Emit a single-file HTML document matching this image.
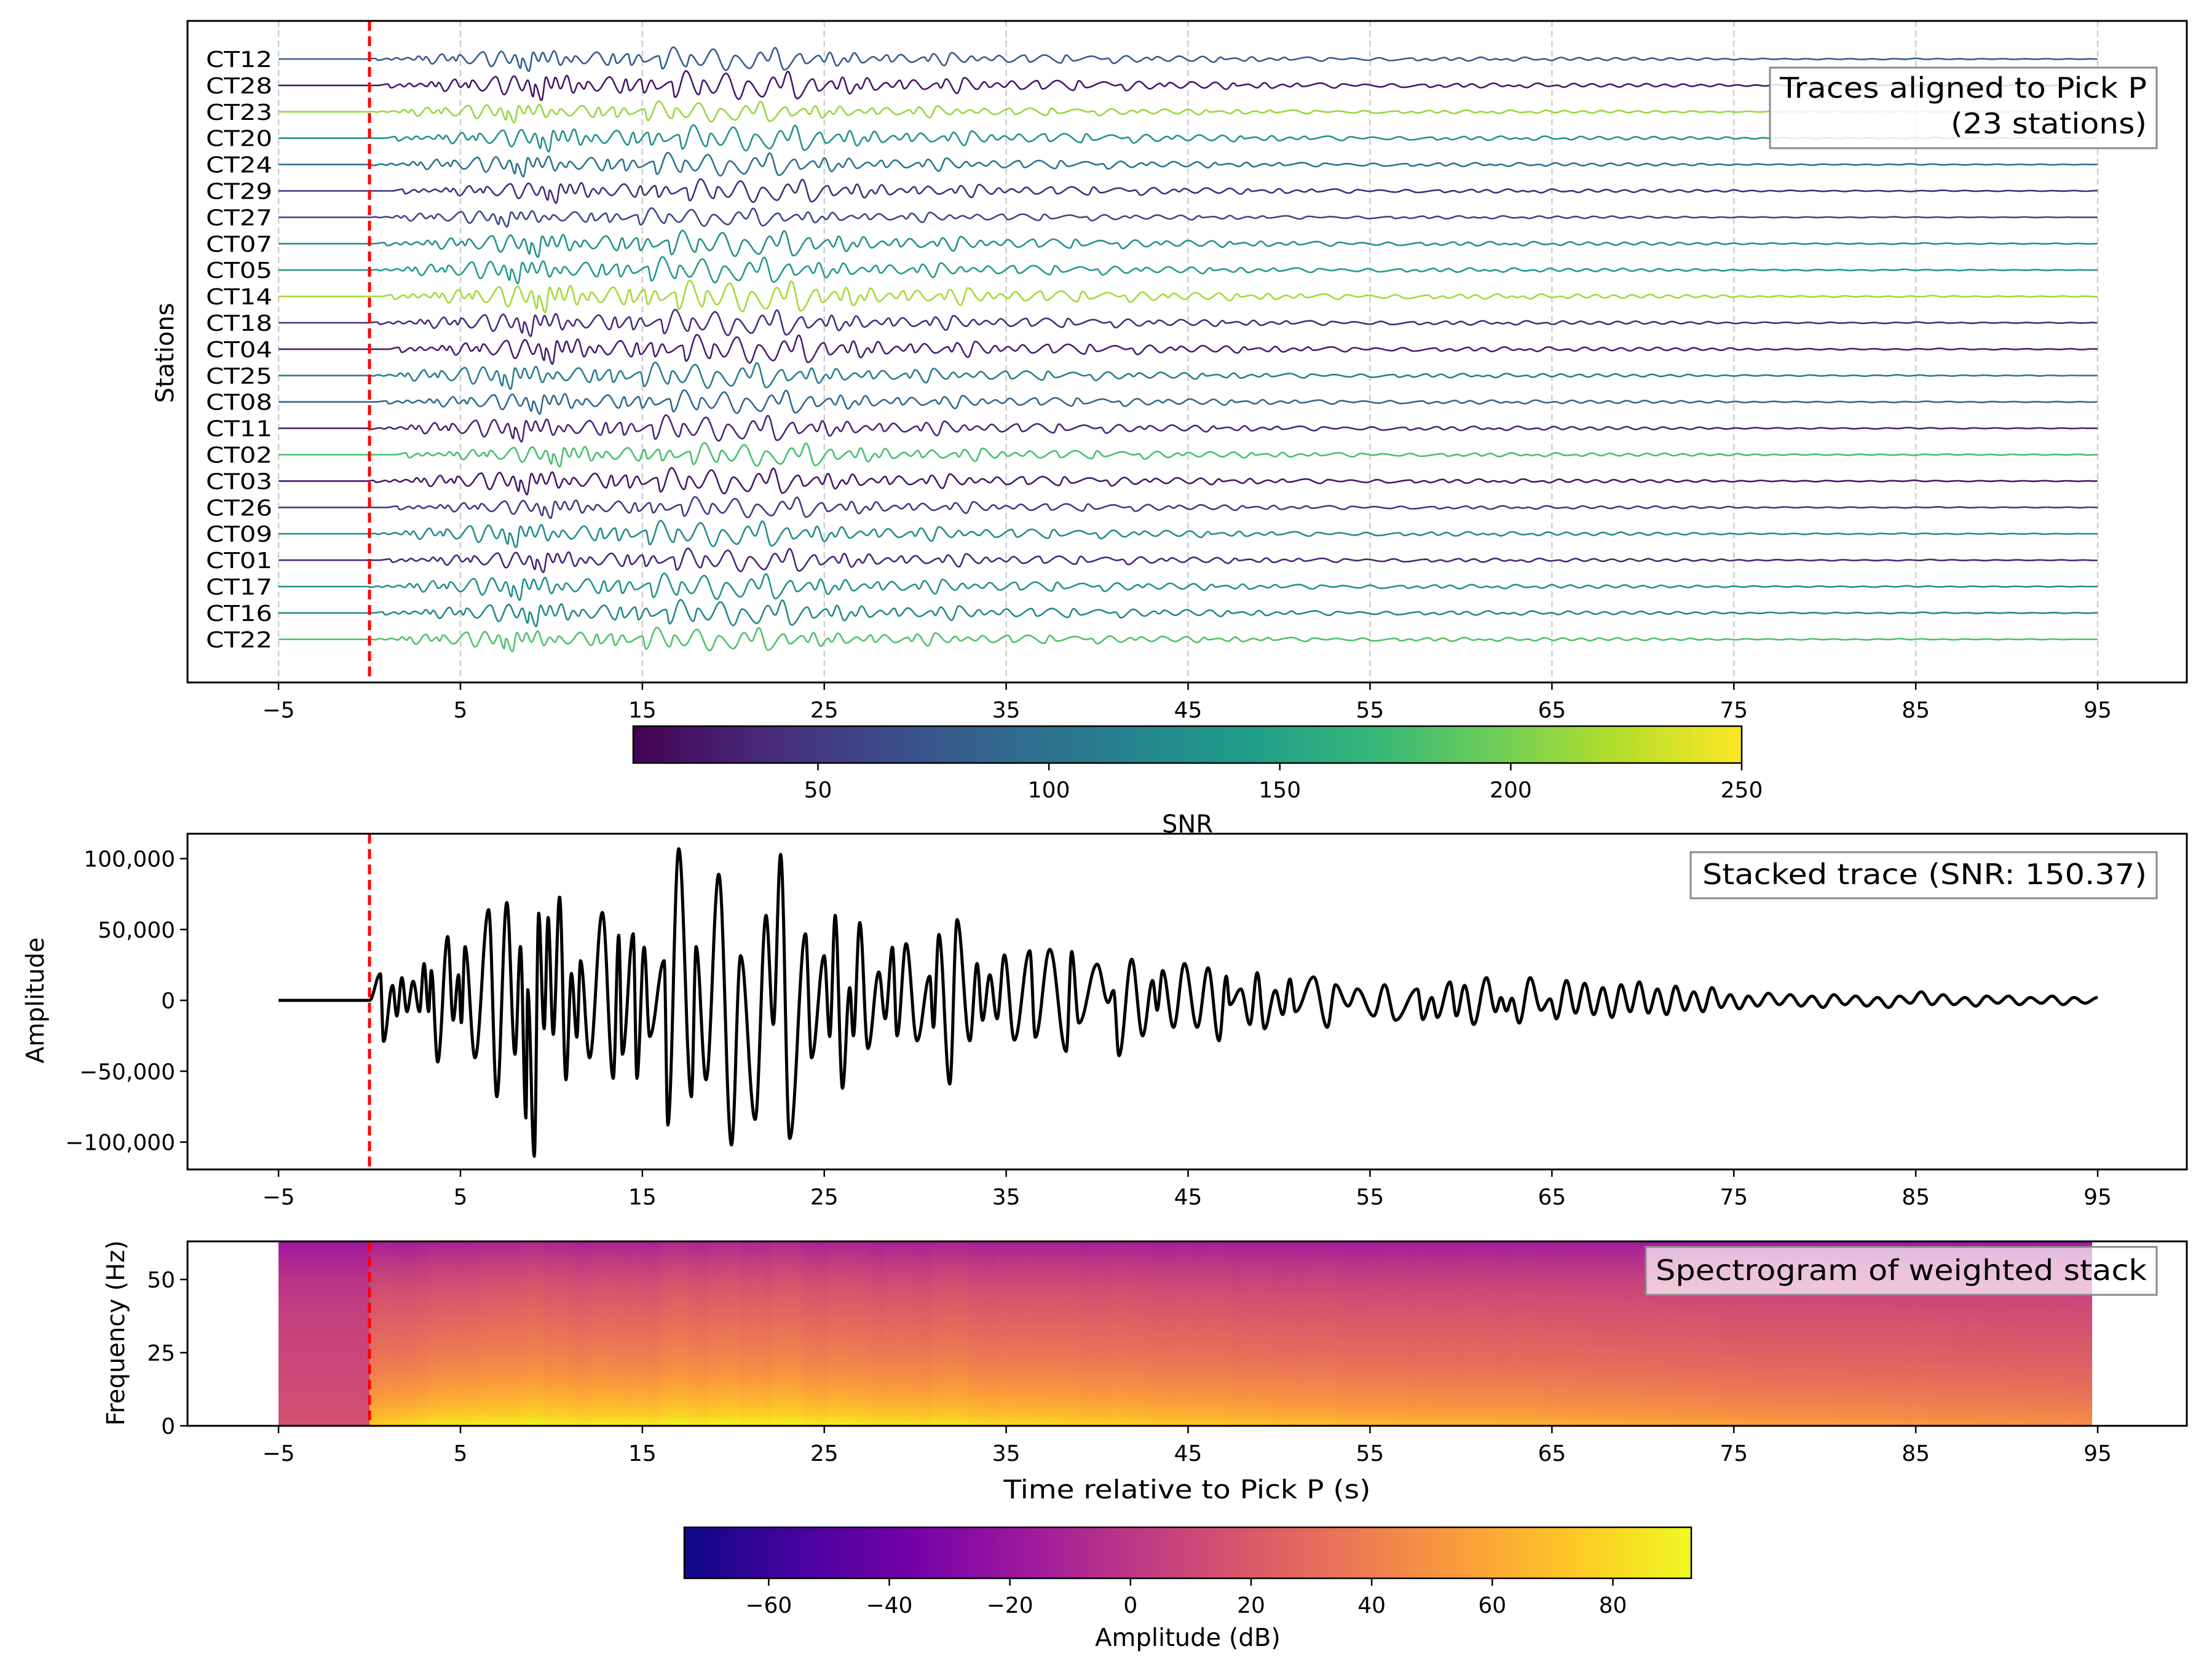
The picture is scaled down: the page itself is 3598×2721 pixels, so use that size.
<!DOCTYPE html>
<html><head><meta charset="utf-8"><style>
html,body{margin:0;padding:0;background:#fff;}
#wrap{position:relative;width:3598px;height:2721px;overflow:hidden;}
svg{position:absolute;left:0;top:0;}
text{font-family:"DejaVu Sans","Liberation Sans",sans-serif;fill:#000;}
</style></head><body>
<div id="wrap">
<svg id="fig" width="3598" height="2721" viewBox="0 0 3598 2721" xmlns="http://www.w3.org/2000/svg"></svg>
</div>
<script>
// ---------------- DATA ----------------
const stations = ["CT12","CT28","CT23","CT20","CT24","CT29","CT27","CT07","CT05","CT14","CT18","CT04","CT25","CT08","CT11","CT02","CT03","CT26","CT09","CT01","CT17","CT16","CT22"];
const stationSNR = [80,25,212,132,100,40,60,130,140,216,40,30,110,90,35,178,25,50,125,35,130,120,182];
const stationShift = [0.3,-0.4,1.1,-0.8,0.6,-1.2,1.5,-0.2,0.9,-0.6,0.2,-1.0,1.3,-0.3,0.7,-1.4,0.4,-0.9,1.0,-0.5,0.8,-0.1,1.2];
const stationGain = [0.9,1.1,0.8,1.0,0.9,0.9,0.7,1.0,1.0,1.2,1.0,1.1,1.0,0.9,1.0,0.9,1.0,0.8,1.0,0.9,1.0,1.0,0.9];
const xTicks = [-5,5,15,25,35,45,55,65,75,85,95];
const ampTicks = [100000,50000,0,-50000,-100000];
const ampTickLabels = ["100,000","50,000","0","\u221250,000","\u2212100,000"];
const freqTicks = [0,25,50];
const snrTicks = [50,100,150,200,250];
const dbTicks = [-60,-40,-20,0,20,40,60,80];
const stackTimes = [-5,0,0.6,0.77,1.27,1.5,1.78,2.06,2.4,2.75,3.0,3.25,3.4,3.75,4.3,4.6,4.9,5.05,5.25,5.8,
6.55,7.0,7.55,8.0,8.3,8.6,8.7,9.06,9.3,9.6,9.82,10.1,10.45,10.8,11.1,11.4,11.6,12.1,12.8,13.4,
13.7,13.9,14.5,14.7,15.1,15.4,16.2,16.4,17.0,17.7,17.95,18.5,19.2,19.9,20.4,21.2,21.8,22.2,22.6,23.1,
23.97,24.3,25.0,25.3,25.6,26.0,26.4,26.6,26.95,27.4,28.0,28.35,28.75,29.0,29.5,30.1,30.8,31.0,31.3,31.9,
32.3,33.0,33.4,33.7,34.1,34.5,34.9,35.45,36.3,36.6,37.4,38.3,38.6,39.0,40.0,40.6,40.9,41.2,41.9,42.5,
43.05,43.3,43.6,44.2,44.8,45.5,46.1,46.7,47.1,47.3,47.9,48.4,48.8,49.2,49.8,50.2,50.6,50.9,51.9,52.65,
53.1,53.8,54.3,55.2,55.8,56.4,57.6,57.9,58.4,58.7,59.4,59.75,60.2,60.7,61.4,61.9,62.2,62.5,62.8,63.2,
63.8,64.4,64.9,65.25,65.8,66.3,66.8,67.3,67.8,68.3,68.8,69.3,69.8,70.3,70.8,71.3,71.8,72.3,72.8,73.3,
73.8,74.3,74.8,75.3,75.8,76.3,76.9,77.5,78.1,78.7,79.3,79.9,80.5,81.1,81.7,82.3,82.9,83.5,84.1,84.7,
85.3,85.9,86.5,87.1,87.7,88.3,88.9,89.5,90.1,90.7,91.3,91.9,92.5,93.1,93.7,94.3,95.0];
const stackValues = [0,0,18750,-29000,10500,-11000,16000,-8000,13500,-8000,26000,-8000,21000,-43500,45000,-14000,18000,-16000,38000,-40500,
64000,-68000,69000,-38000,38000,-83000,7500,-110000,61500,-20000,58500,-24000,73000,-56000,19000,-26000,28000,-40500,62000,-55000,
46000,-38000,47000,-55000,37500,-25500,28000,-88000,107000,-68000,38000,-56000,89000,-102000,31500,-84000,60000,-17000,103000,-97500,
47000,-40500,31500,-25500,60000,-62000,9000,-25000,55000,-34000,20000,-13000,37500,-25000,40000,-28500,17000,-19000,46500,-59000,
57000,-28500,26000,-14000,18000,-13000,32000,-28000,35000,-26000,36000,-36000,34500,-16000,25500,-1500,7000,-39000,29000,-25000,
14000,-7000,21000,-19000,26000,-19000,23000,-28500,17000,-3000,8000,-17000,19500,-20000,7000,-10000,15000,-8000,16500,-19000,
11000,-4000,8000,-11000,11000,-14000,8000,-13500,2000,-12000,13000,-11000,10500,-17000,16000,-8000,2000,-7500,1500,-16000,
16000,-7000,1000,-13000,14000,-9000,12000,-10000,9000,-12000,11000,-8000,13000,-9000,8000,-10000,10000,-7000,6000,-8000,
9000,-5000,4000,-6000,3000,-4000,5000,-3000,4000,-4000,3000,-5000,4000,-3000,3000,-4000,2000,-5000,3000,-2000,
6000,-3000,4000,-3000,2000,-4000,3000,-2000,3000,-3000,2000,-2000,3000,-3000,2000,-2000,2000];
// spectrogram (dB): noise profile, event profile over frequency bins; event weight over time bins
const specFreqs = [0,4,8,12,16,20,24,28,32,36,40,44,48,52,56,60,64];
const specNoise = [15,14,13,12,11,10,9,8,7,6,4,2,0,-3,-8,-14,-20];
const specEvent = [86,72,62,55,48,42,37,33,29,25,21,17,12,6,0,-8,-16];
const specTimes = [-5,-2.5,0,2.5,5,7.5,10,12.5,15,17.5,20,22.5,25,27.5,30,32.5,35,37.5,40,42.5,45,47.5,50,52.5,55,57.5,60,62.5,65,67.5,70,72.5,75,77.5,80,82.5,85,87.5,90,92.5,95];
const specWeight = [0,0,0.85,0.95,1,1,1,1,1,1,1,1,1,0.98,0.96,0.95,0.93,0.9,0.88,0.86,0.84,0.82,0.8,0.78,0.76,0.74,0.73,0.72,0.7,0.68,0.66,0.64,0.62,0.6,0.6,0.58,0.56,0.55,0.54,0.52,0.5];

// ---------------- LAYOUT ----------------
const NS="http://www.w3.org/2000/svg";
const svg=document.getElementById('fig');
const AX={l:305,r:3557};
const X=t=>601+29.59*t;
const P1={t:34,b:1110}, P2={t:1356,b:1902}, P3={t:2019,b:2319};
const rowY=i=>96+i*42.9;
const AmpY=v=>1627-v/100000*230.5;
const FY=f=>2319-f*4.76;

function el(tag,attrs,parent){const e=document.createElementNS(NS,tag);for(const k in attrs)e.setAttribute(k,attrs[k]);(parent||svg).appendChild(e);return e;}
function txt(s,x,y,size,anchor,parent,extra){const e=el('text',Object.assign({x:x,y:y,'font-size':size,'text-anchor':anchor||'middle'},extra||{}),parent);e.textContent=s;return e;}
function lerpHex(stops,v){v=Math.max(0,Math.min(1,v));const n=stops.length-1;const i=Math.min(n-1,Math.floor(v*n));const f=v*n-i;
 const a=stops[i],b=stops[i+1];const c=[0,1,2].map(k=>Math.round(parseInt(a.substr(1+2*k,2),16)*(1-f)+parseInt(b.substr(1+2*k,2),16)*f));return c;}
const VIR=["#440154","#482878","#3e4989","#31688e","#26828e","#1f9e89","#35b779","#6ece58","#b5de2b","#fde725"];
const PLA=["#0d0887","#46039f","#7201a8","#9c179e","#bd3786","#d8576b","#ed7953","#fb9f3a","#fdca26","#f0f921"];
const rgb=c=>`rgb(${c[0]},${c[1]},${c[2]})`;
const snrMin=10,snrMax=250,dbMin=-74,dbMax=93;

function stackAt(t){
 if(t<=stackTimes[0]||t>=stackTimes[stackTimes.length-1])return 0;
 let i=1;while(stackTimes[i]<t)i++;
 const t0=stackTimes[i-1],t1=stackTimes[i],v0=stackValues[i-1],v1=stackValues[i];
 const f=(1-Math.cos(Math.PI*(t-t0)/(t1-t0)))/2;return v0+(v1-v0)*f;}
function interp(xs,ys,x){if(x<=xs[0])return ys[0];if(x>=xs[xs.length-1])return ys[ys.length-1];
 let i=1;while(xs[i]<x)i++;const f=(x-xs[i-1])/(xs[i]-xs[i-1]);return ys[i-1]+(ys[i]-ys[i-1])*f;}

// ---------------- PANEL 1: traces ----------------
const g1=el('g',{});


xTicks.forEach(t=>{const l=el('line',{x1:X(t),x2:X(t),y1:P1.t,y2:P1.b,stroke:'#cfcfcf','stroke-width':2.5,'stroke-dasharray':'10 6'},g1);
 });
stations.forEach((s,i)=>{
 const y0=rowY(i);let d='';
 for(let t=-5;t<=95.001;t+=0.03){const v=t<0?0:stackAt(t+stationShift[i])*stationGain[i]*Math.min(1,t/3+0.2);d+=(d?'L':'M')+X(t).toFixed(1)+','+(y0-v/110000*22).toFixed(1);}
 const p=el('path',{d:d,fill:'none',stroke:rgb(lerpHex(VIR,(stationSNR[i]-snrMin)/(snrMax-snrMin))),'stroke-width':2.6,'stroke-linejoin':'round'},g1);
 
 const lb=txt(s,443,y0+13,36,'end',g1,{textLength:108,lengthAdjust:'spacingAndGlyphs'});
 
});
// legend 1
el('rect',{x:2879,y:110,width:629,height:131,fill:'#fff','fill-opacity':0.85,stroke:'#8a8a8a','stroke-width':3},g1);
txt('Traces aligned to Pick P',3492,159,46,'end',g1,{textLength:597,lengthAdjust:'spacingAndGlyphs'});
txt('(23 stations)',3492,217,46,'end',g1,{textLength:319,lengthAdjust:'spacingAndGlyphs'});

// ---------------- PANEL 2: stack ----------------
const g2=el('g',{});


{let d='';for(let t=-5;t<=95.001;t+=0.02){d+=(d?'L':'M')+X(t).toFixed(1)+','+AmpY(stackAt(t)).toFixed(1);}
 const p=el('path',{d:d,fill:'none',stroke:'#000','stroke-width':5,'stroke-linejoin':'round'},g2);
 }
ampTicks.forEach((v,i)=>{el('line',{x1:AX.l-12,x2:AX.l,y1:AmpY(v),y2:AmpY(v),stroke:'#000','stroke-width':2.5},g2);
 const t=txt(ampTickLabels[i],AX.l-20,AmpY(v)+13,36,'end',g2);});
el('rect',{x:2750,y:1386,width:758,height:75,fill:'#fff','fill-opacity':0.85,stroke:'#8a8a8a','stroke-width':3},g2);
txt('Stacked trace (SNR: 150.37)',3492,1438,46,'end',g2,{textLength:723,lengthAdjust:'spacingAndGlyphs'});
const yl2=txt('Amplitude',57,1627,40,'middle',g2,{transform:'rotate(-90 57 1627)',dy:14});


// ---------------- PANEL 3: spectrogram ----------------
const g3=el('g',{});


{const x0=X(-5),x1=X(94.7),W=Math.round(x1-x0),H=P3.b-P3.t;
 const c=document.createElement('canvas');c.width=W;c.height=H;const cx=c.getContext('2d');
 const im=cx.createImageData(W,H);
 const env=new Float32Array(W);
 for(let px=0;px<W;px++){const t=-5+px/29.59;let m=0;for(let dt=-0.4;dt<=0.4;dt+=0.1)m=Math.max(m,Math.abs(stackAt(t+dt)));env[px]=m;}
 for(let px=0;px<W;px++){const t=-5+px/29.59;
  const w=t<0?0:interp(specTimes,specWeight,Math.max(t,0.01));
  const e=t<0?0:(Math.sqrt(env[px]/110000)-0.35)*10;
  for(let py=0;py<H;py++){const f=(H-py)/4.76;
   const n=interp(specFreqs,specNoise,f),ev=interp(specFreqs,specEvent,f);
   const db=n+w*(ev-n)+e*w;
   const col=lerpHex(PLA,(db-dbMin)/(dbMax-dbMin));const k=(py*W+px)*4;
   im.data[k]=col[0];im.data[k+1]=col[1];im.data[k+2]=col[2];im.data[k+3]=255;}}
 cx.putImageData(im,0,0);
 c.style.position='absolute';c.style.left=x0+'px';c.style.top=P3.t+'px';
 
 
 document.getElementById('wrap').insertBefore(c,svg);
}
freqTicks.forEach(f=>{el('line',{x1:AX.l-12,x2:AX.l,y1:FY(f),y2:FY(f),stroke:'#000','stroke-width':2.5},g3);
 const t=txt(String(f),AX.l-20,FY(f)+13,36,'end',g3);});
el('rect',{x:2677,y:2028,width:831,height:78,fill:'#fff','fill-opacity':0.7,stroke:'#8a8a8a','stroke-width':3},g3);
txt('Spectrogram of weighted stack',3492,2082,46,'end',g3,{textLength:799,lengthAdjust:'spacingAndGlyphs'});
const yl3=txt('Frequency (Hz)',188,2168,40,'middle',g3,{transform:'rotate(-90 188 2168)',dy:14});

txt('Time relative to Pick P (s)',1931,2437,42,'middle',g3,{textLength:597,lengthAdjust:'spacingAndGlyphs'});

// ---------------- shared: pick line, frames, x ticks ----------------
[P1,P2,P3].forEach((P,k)=>{
 const pl=el('line',{x1:X(0),x2:X(0),y1:P.t,y2:P.b,stroke:'#ff0000','stroke-width':5,'stroke-dasharray':'16 9'});
 
 const fr=el('rect',{x:AX.l,y:P.t,width:AX.r-AX.l,height:P.b-P.t,fill:'none',stroke:'#000','stroke-width':3});
 
 xTicks.forEach(t=>{el('line',{x1:X(t),x2:X(t),y1:P.b,y2:P.b+12,stroke:'#000','stroke-width':2.5});
  const lb=txt(t<0?'\u2212'+Math.abs(t):String(t),X(t),P.b+57,36,'middle');
  });
});
const yl1=txt('Stations',268,574,40,'middle',null,{transform:'rotate(-90 268 574)',dy:14});


// ---------------- colorbars ----------------
function colorbar(name,x0,x1,y0,y1,stops,vmin,vmax,ticks,fmt,title,titleY){
 const g=el('g',{});
 const id=name+'-grad';const defs=el('defs',{},g);const lg=el('linearGradient',{id:id,x1:0,x2:1,y1:0,y2:0},defs);
 stops.forEach((c,i)=>el('stop',{offset:i/(stops.length-1),'stop-color':c},lg));
 el('rect',{x:x0,y:y0,width:x1-x0,height:y1-y0,fill:`url(#${id})`,stroke:'#000','stroke-width':2.5},g);
 const sx=v=>x0+(v-vmin)/(vmax-vmin)*(x1-x0);
 ticks.forEach(v=>{el('line',{x1:sx(v),x2:sx(v),y1:y1,y2:y1+12,stroke:'#000','stroke-width':2.5},g);
  const t=txt(fmt(v),sx(v),y1+56,36,'middle',g);});
 const tt=txt(title,(x0+x1)/2,titleY,40,'middle',g);
}
colorbar('snr-colorbar',1030,2833,1181,1241,VIR,snrMin,snrMax,snrTicks,v=>String(v),'SNR',1354);
colorbar('db-colorbar',1113,2751,2484,2567,PLA,dbMin,dbMax,dbTicks,v=>v<0?'\u2212'+Math.abs(v):String(v),'Amplitude (dB)',2677);
</script>
</body></html>
